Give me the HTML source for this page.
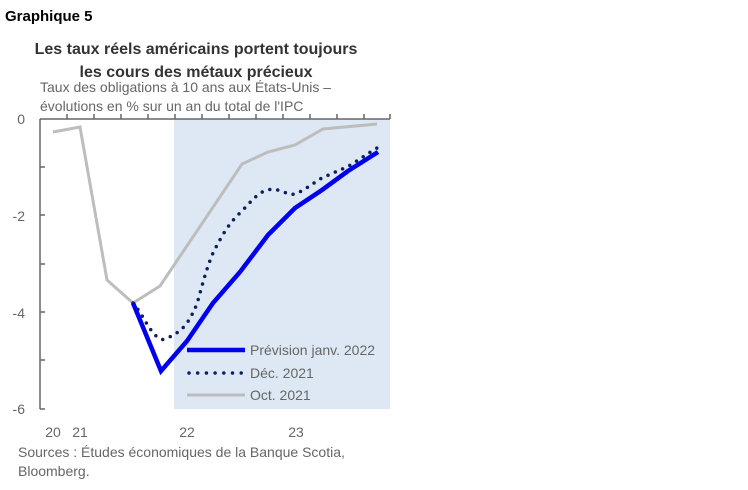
<!DOCTYPE html>
<html><head><meta charset="utf-8"><style>
body{margin:0;background:#fff;width:748px;height:485px;overflow:hidden;font-family:"Liberation Sans",sans-serif;}
</style></head><body>
<svg width="748" height="485" xmlns="http://www.w3.org/2000/svg" font-family="Liberation Sans, sans-serif">
<text x="5" y="21" font-size="15" font-weight="bold" fill="#000">Graphique 5</text>
<text x="196" y="54" font-size="16" font-weight="bold" fill="#333" text-anchor="middle">Les taux réels américains portent toujours</text>
<text x="196" y="77" font-size="16" font-weight="bold" fill="#333" text-anchor="middle">les cours des métaux précieux</text>
<text x="40" y="92" font-size="14" fill="#666">Taux des obligations à 10 ans aux États-Unis –</text>
<text x="40" y="111" font-size="14" fill="#666">évolutions en % sur un an du total de l'IPC</text>
<rect x="174" y="119" width="216" height="290" fill="#dde8f4"/>
<g stroke="#666" stroke-width="1.5" fill="none">
<line x1="40" y1="119" x2="390" y2="119"/>
<line x1="40" y1="119" x2="40" y2="409"/>
<line x1="40" y1="409" x2="45" y2="409"/>
<line x1="40" y1="167" x2="45" y2="167"/><line x1="40" y1="215" x2="45" y2="215"/><line x1="40" y1="264" x2="45" y2="264"/><line x1="40" y1="312" x2="45" y2="312"/><line x1="40" y1="360" x2="45" y2="360"/>
<path d="M67 119v-5M94 119v-5M121 119v-5M148 119v-5M175 119v-5M202 119v-5M229 119v-5M256 119v-5M283 119v-5M310 119v-5M337 119v-5M364 119v-5M390 119v-5"/>
</g>
<g font-size="14" fill="#666" text-anchor="end">
<text x="25" y="124">0</text><text x="25" y="221">-2</text><text x="25" y="318">-4</text><text x="25" y="414">-6</text>
</g>
<g font-size="14" fill="#666" text-anchor="middle">
<text x="53" y="437">20</text><text x="80" y="437">21</text><text x="187" y="437">22</text><text x="296" y="437">23</text>
</g>
<polyline fill="none" stroke="#bdbdbd" stroke-width="3" points="53,132 80,127 107,280 133,303 160,286 242,164 268,152 295,145 323,129 377,124"/>
<path fill="none" stroke="#0a1f5c" stroke-width="3.5" stroke-linecap="round" stroke-dasharray="0 8" d="M133,303 L140,312 C150,330 158,342 165,339 C175,335 182,330 187,323 C194,312 197,305 200,293 C205,275 208,265 213,253 C222,235 230,222 240,213 C250,203 257,193 267,190 C280,187 287,196 295,194 C305,190 312,184 320,179 C330,174 338,171 347,167 C356,162 365,155 377,148"/>
<polyline fill="none" stroke="#0000ee" stroke-width="4.5" points="133,303 161,371 187,341 213,303 240,272 268,235 295,208 322,190 348,171 378,152"/>
<line x1="187" y1="350" x2="245" y2="350" stroke="#0000ee" stroke-width="4.5"/>
<line x1="189" y1="373" x2="245" y2="373" stroke="#0a1f5c" stroke-width="3.5" stroke-linecap="round" stroke-dasharray="0 8.7"/>
<line x1="187" y1="395" x2="245" y2="395" stroke="#bdbdbd" stroke-width="3"/>
<g font-size="14" fill="#666">
<text x="250" y="355">Prévision janv. 2022</text>
<text x="250" y="378">Déc. 2021</text>
<text x="250" y="400">Oct. 2021</text>
<text x="18" y="457">Sources : Études économiques de la Banque Scotia,</text>
<text x="18" y="476">Bloomberg.</text>
</g>
</svg>
</body></html>
